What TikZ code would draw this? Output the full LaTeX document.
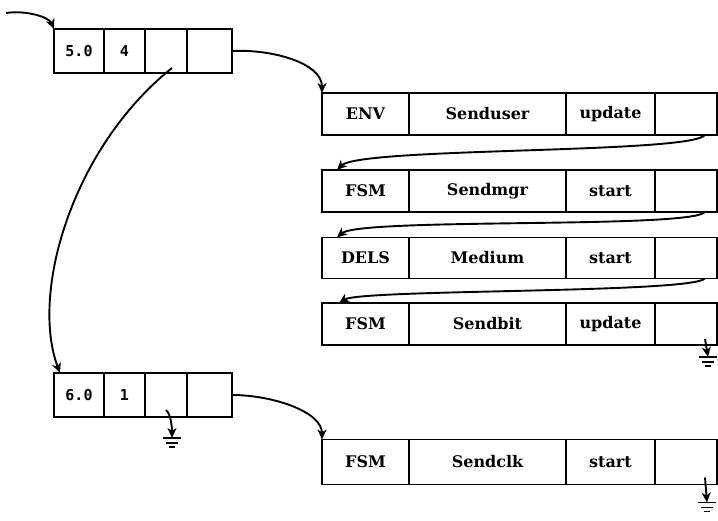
\documentclass[tikz,border=0pt]{standalone}
\usepackage{fontspec}
\setmainfont{DejaVu Serif}
\newfontfamily\digfont{DejaVu Sans Mono}
\usetikzlibrary{arrows.meta,calc}
\begin{document}
\begin{tikzpicture}[x=1pt,y=-1pt,line width=1.9pt,
  cell/.style={draw,rectangle,inner sep=0pt,outer sep=0pt,
    font=\fontsize{16}{18}\selectfont\bfseries},
  numcell/.style={draw,rectangle,inner sep=0pt,outer sep=0pt,
    minimum height=44pt,font=\digfont\fontsize{15}{17}\selectfont\bfseries},
  arr/.style={-{Stealth[length=10pt,width=9pt,inset=3pt]}},
  gnd/.pic={\draw[line width=1.8pt] (-9,0)--(9,0) (-6,5)--(6,5) (-3,9)--(3,9);}
]
\clip (0,0) rectangle (718,521);
\fill[white] (0,0) rectangle (718,521);

% left records
\node[numcell,minimum width=50pt] (r1a) at (79,51) {5.0};
\node[numcell,minimum width=41pt] (r1b) at (124.5,51) {4};
\node[numcell,minimum width=42pt] (r1c) at (166,51) {};
\node[numcell,minimum width=45pt] (r1d) at (209.5,51) {};

\node[numcell,minimum width=50pt] (r2a) at (79,395) {6.0};
\node[numcell,minimum width=41pt] (r2b) at (124.5,395) {1};
\node[numcell,minimum width=42pt] (r2c) at (166,395) {};
\node[numcell,minimum width=45pt] (r2d) at (209.5,395) {};

% right records
\foreach \r/\y/\h/\ta/\tb/\tc in {A/114/42/ENV/Senduser/update,
   B/191/42/FSM/Sendmgr/start, C/258/41/DELS/Medium/start,
   D/324/42/FSM/Sendbit/update, E/462/45/FSM/Sendclk/start}{
  \node[cell,minimum width=87pt,minimum height=\h pt] (\r1) at (365.5,\y) {\ta};
  \node[cell,minimum width=157pt,minimum height=\h pt] (\r2) at (487.5,\y) {\tb};
  \node[cell,minimum width=89pt,minimum height=\h pt] (\r3) at (610.5,\y) {\tc};
  \node[cell,minimum width=62pt,minimum height=\h pt] (\r4) at (686,\y) {};
}

% connectors
\coordinate (in) at (6,13);
\draw[arr] (in) .. controls +(20,-3) and +(-5,-12) .. (r1a.north west);
\draw[arr] (r1d.east) .. controls +(40,-2) and +(0,-30) .. (A1.north west);
\draw[arr] ($(r1c.south)+(6,-5)$) .. controls +(-100,80) and +(-30,-80) .. ($(r2a.north west)+(6,0)$);
\draw[arr] (r2d.east) .. controls +(40,0) and +(0,-28) .. (E1.north west);

\draw[arr] ($(A4.south east)+(-12,0)$) .. controls +(-15,19) and +(23,-23) .. ($(B1.north west)+(15,0)$);
\draw[arr] ($(B4.south east)+(-12,0)$) .. controls +(-15,17) and +(23,-20) .. ($(C1.north west)+(15,0)$);
\draw[arr] ($(C4.south east)+(-12,0)$) .. controls +(-15,15) and +(22,-14) .. ($(D1.north west)+(17,0)$);

% grounds
\coordinate (gD) at ($(D4.south east)+(-9,12)$);
\draw[arr] ($(D4.south east)+(-12,-6)$) -- (gD);
\pic at (gD) {gnd};
\coordinate (gE) at ($(E4.south east)+(-10,18)$);
\draw[arr] ($(E4.south east)+(-12,-7)$) -- (gE);
\pic at (gE) {gnd};
\coordinate (g2) at ($(r2c.south)+(6,21)$);
\draw[arr] ($(r2c.south)+(0,-7)$) .. controls +(5,4) and +(0,-10) .. (g2);
\pic at (g2) {gnd};
\end{tikzpicture}
\end{document}
